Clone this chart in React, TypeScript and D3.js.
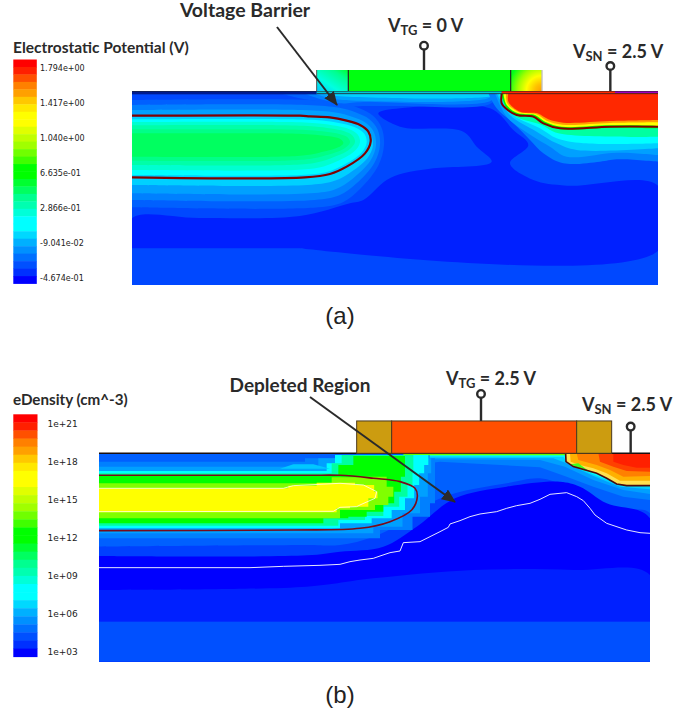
import React from "react";
import * as d3 from "d3";

type P = [number, number];

// ---------- Legends ----------
const legendColors = ["#ff0000","#ff2000","#ff5000","#ff8000","#ffa000","#ffc800","#ffe800","#ffff00","#ffff00","#e0ff00","#c0ff00","#a0ff00","#70ff00","#40ff00","#00ff00","#00ff00","#00ff30","#00ff60","#00ff90","#00ffb0","#00ffd8","#00ffff","#00ffff","#00d8ff","#00b0ff","#0090ff","#0070ff","#0050ff","#0030ff","#0000ff"];
const potentialTicks = ["1.794e+00","1.417e+00","1.040e+00","6.635e-01","2.866e-01","-9.041e-02","-4.674e-01"];
const densityTicks = ["1e+21","1e+18","1e+15","1e+12","1e+09","1e+06","1e+03"];

// ---------- Panel (a) contours, in mesh units ----------
const aDark: P[] = [[-504,745],[-504,655],[-300,654],[0,648],[150,610],[190,600],[260,540],[310,520],[400,505],[575,485],[530,440],[490,395],[300,380],[235,340],[300,325],[570,325],[640,390],[685,435],[630,490],[700,540],[800,557],[1074,557],[1074,752],[0,745]];
// well bands: colour, top, bottom, tip
const aWellColors = ["#0060ff","#0080ff","#00a0ff","#00d0ff","#00ffff","#00ffd0","#00ffa8","#00ff88","#00ff60"];
const aWellTops = [300,315,330,350,358,366,376,388,400];
const aWellBottoms = [622,600,580,555,525,510,495,482,470];
const aWellTips = [252,240,228,219,200,180,165,150,130];
const wellOutline: P[] = [[-222,0],[-122,0.03],[-72,0.08],[-32,0.15],[-7,0.26],[0,0.42],[-17,0.61],[-72,0.83],[-122,0.95],[-197,1]];
const aSurface: { color: string; pts: P[] }[] = [
  { color: "#0060ff", pts: [[-60,280],[0,295],[60,305],[120,320],[190,318],[300,318],[570,312],[600,280]] },
  { color: "#0080ff", pts: [[10,280],[60,297],[120,310],[190,306],[570,304],[592,280]] },
  { color: "#00a0ff", pts: [[40,280],[80,292],[130,300],[560,296],[588,280]] },
  { color: "#00d0ff", pts: [[60,280],[110,288],[575,289],[592,280]] },
];
const aSn: { color: string; pts: P[] }[] = [
  { color: "#0080ff", pts: [[565,280],[590,325],[640,370],[690,420],[730,460],[790,490],[900,485],[950,478],[1074,485]] },
  { color: "#00a0ff", pts: [[585,280],[620,350],[700,410],[750,440],[800,470],[950,458],[1074,465]] },
  { color: "#00d0ff", pts: [[590,280],[630,345],[710,395],[770,430],[830,450],[1074,445]] },
  { color: "#00ffff", pts: [[595,280],[640,345],[720,385],[770,415],[850,430],[1074,430]] },
  { color: "#00ffa0", pts: [[600,280],[640,345],[725,375],[775,400],[1074,410]] },
  { color: "#00ff00", pts: [[603,280],[620,325],[650,345],[700,352],[735,372],[780,388],[930,383],[1074,385]] },
  { color: "#ffff00", pts: [[610,280],[620,315],[655,340],[705,345],[735,365],[785,380],[930,376],[1074,378]] },
  { color: "#ffa000", pts: [[618,280],[622,310],[658,337],[709,343],[740,362],[788,374],[930,369],[1074,367]] },
  { color: "#ff2800", pts: [[625,280],[625,305],[660,335],[712,340],[745,358],[790,368],[930,363],[1074,360]] },
];
const aWellContour: P[] = [[-504,347],[0,347],[30,349],[90,352],[140,362],[180,375],[205,395],[212,425],[195,460],[140,500],[90,522],[15,532],[-504,532]];
const aSnContour: P[] = [[605,281],[605,310],[617,325],[650,345],[700,350],[730,370],[780,385],[930,380],[1074,380]];

// ---------- Panel (b) contours, in mesh units ----------
const bLevels: { color: string; pts: P[] }[] = [
  { color: "#0040ff", pts: [[-723,530],[-100,525],[0,525],[100,500],[200,450],[270,400],[345,370],[500,340],[600,325],[680,350],[780,400],[850,420],[930,430],[930,875],[-723,875]] },
  { color: "#0000ff", pts: [[-723,558],[-100,556],[0,545],[130,530],[230,470],[345,385],[500,350],[660,335],[720,350],[800,400],[930,445],[930,875],[-723,875]] },
  { color: "#0020ff", pts: [[-723,660],[-100,650],[100,625],[400,600],[700,600],[930,615],[930,875],[-723,875]] },
];
const bSurface: { color: string; pts: P[] }[] = [
  { color: "#0080ff", pts: [[265,280],[300,275],[600,292],[680,320],[760,350],[850,380],[930,390]] },
  { color: "#00a0ff", pts: [[265,268],[600,270],[675,290],[760,330],[850,360],[930,372]] },
  { color: "#00d0ff", pts: [[270,263],[640,265],[680,280],[760,318],[840,350],[930,358]] },
  { color: "#00ffff", pts: [[270,259],[670,260],[680,275],[720,297],[840,345],[930,350]] },
  { color: "#60ff00", pts: [[190,256],[670,256]] },
];
const bWell: { color: string; pts: P[] }[] = [
  { color: "#0080ff", pts: [[-723,275],[-150,275],[-60,265],[285,265],[285,400],[255,440],[180,480],[60,505],[-100,505],[-723,505]] },
  { color: "#00a0ff", pts: [[-723,290],[-100,290],[-30,265],[275,265],[272,310],[255,380],[225,430],[150,470],[50,490],[-100,490],[-723,490]] },
  { color: "#00ffff", pts: [[-723,303],[-50,303],[-30,280],[0,255],[265,255],[265,285],[240,310],[235,345],[210,385],[180,420],[130,445],[60,460],[-60,475],[-723,475]] },
  { color: "#00ffa0", pts: [[-723,310],[-40,310],[-10,280],[20,255],[215,255],[225,300],[210,345],[195,380],[160,410],[100,438],[50,450],[-60,467],[-723,467]] },
  { color: "#00ff00", pts: [[-723,318],[-30,318],[20,285],[60,258],[190,258],[200,290],[190,320],[175,365],[150,400],[110,425],[50,440],[0,445],[-100,460],[-723,460]] },
  { color: "#80ff00", pts: [[-723,340],[-50,340],[0,322],[120,320],[160,350],[160,380],[130,405],[80,420],[-80,445],[-723,445]] },
  { color: "#ffff00", pts: [[-723,355],[-170,355],[-140,347],[0,338],[90,345],[115,365],[110,385],[60,410],[0,415],[-20,427],[-723,427]] },
];
const bPatch: P[] = [[-140,283],[-80,283],[-30,296],[-180,296]];
const bSn: { color: string; pts: P[] }[] = [
  { color: "#ffe050", pts: [[675,250],[678,275],[700,290],[770,310],[800,325],[830,342],[860,347],[930,347]] },
  { color: "#ffb000", pts: [[690,250],[692,275],[720,285],[760,295],[800,310],[840,332],[930,332]] },
  { color: "#ff8000", pts: [[710,250],[715,270],[770,285],[810,300],[850,320],[930,318]] },
  { color: "#ff4000", pts: [[775,250],[780,275],[820,290],[860,303],[930,305]] },
  { color: "#ff2000", pts: [[820,250],[820,275],[850,285],[890,293],[930,293]] },
];
const bSnGreen: P[] = [[690,283],[715,280],[745,302],[728,300]];
const bWellContour: P[] = [[-723,316],[-100,316],[0,316],[100,325],[180,335],[225,355],[232,380],[215,420],[150,455],[60,475],[-140,480],[-723,482]];
const bInner: P[] = [[-723,355],[-170,355],[-140,347],[0,340],[70,345],[110,365],[105,385],[60,405],[50,410],[0,412],[-20,424],[-723,425]];
const bSnContour: P[] = [[677,252],[678,275],[700,290],[770,310],[800,325],[830,342],[860,347],[930,347]];
const bDepletion: P[] = [[-723,593],[-270,593],[-170,589],[-60,586],[0,583],[30,575],[60,570],[100,565],[120,558],[150,548],[180,543],[190,518],[240,515],[270,500],[300,485],[325,472],[330,462],[360,452],[390,440],[420,432],[470,425],[500,415],[530,407],[570,400],[600,388],[630,373],[680,368],[710,380],[730,392],[750,415],[765,435],[800,460],[860,480],[900,488],[930,490]];

const DARK = "#2a2a2a";
const LABEL_FONT = "Lato, 'Open Sans', sans-serif";

function Legend({ x, y, w, h, ticks, tickX, tickY, fontSize }: any) {
  const band = d3.scaleBand<number>().domain(d3.range(legendColors.length)).range([y, y + h]);
  return (
    <g>
      {legendColors.map((c, i) => (
        <rect key={i} x={x} y={band(i)} width={w} height={band.bandwidth() + 0.4} fill={c} />
      ))}
      {ticks.map((t: string, i: number) => (
        <text key={t} x={tickX} y={tickY(i)} dominantBaseline="central" fontFamily="'DejaVu Sans', sans-serif" fontSize={fontSize} fill="#222">{t}</text>
      ))}
    </g>
  );
}

function VLabel({ x, y, sub, rest, size = 18 }: any) {
  return (
    <text x={x} y={y} fontFamily={LABEL_FONT} fontWeight={700} fontSize={size} fill={DARK}>
      V<tspan dy={3} fontSize={size * 0.72}>{sub}</tspan><tspan dy={-3}> = {rest}</tspan>
    </text>
  );
}

function Stem({ x, y0, y1 }: any) {
  return (
    <g stroke={DARK} strokeWidth={2.4}>
      <line x1={x} x2={x} y1={y0} y2={y1} />
      <circle cx={x} cy={y0} r={3.8} fill="#fff" />
    </g>
  );
}

export default function App() {
  const xA = d3.scaleLinear().domain([-504, 1074]).range([132, 658]);
  const yA = d3.scaleLinear().domain([273, 855]).range([91, 285]);
  const xB = d3.scaleLinear().domain([-723, 930]).range([99, 650]);
  const yB = d3.scaleLinear().domain([250, 875]).range([453.3, 661.7]);

  const smoothA = d3.line<P>().x(d => xA(d[0])).y(d => yA(d[1])).curve(d3.curveCatmullRom.alpha(0.5));
  const linearA = d3.line<P>().x(d => xA(d[0])).y(d => yA(d[1]));
  const smoothB = d3.line<P>().x(d => xB(d[0])).y(d => yB(d[1])).curve(d3.curveCatmullRom.alpha(0.5));
  const linearB = d3.line<P>().x(d => xB(d[0])).y(d => yB(d[1]));
  const stepB = d3.line<P>().x(d => xB(d[0])).y(d => yB(d[1])).curve(d3.curveStep);

  const closeTopA = (pts: P[]) => `${smoothA(pts)}L${xA(1074)},${yA(273)}L${xA(pts[0][0])},${yA(273)}Z`;
  const closeTopB = (pts: P[]) => `${linearB(pts)}L${xB(930)},${yB(250)}L${xB(pts[0][0])},${yB(250)}Z`;

  const wellBand = (i: number) => {
    const t = aWellTops[i], b = aWellBottoms[i], tip = aWellTips[i];
    const pts: P[] = [[-504, t], ...wellOutline.map(([dx, f]) => [tip + dx, t + f * (b - t)] as P), [-504, b]];
    return smoothA(pts) + "Z";
  };

  return (
    <svg width={694} height={715} viewBox="0 0 694 715" style={{ position: "absolute", left: 0, top: 0, display: "block", background: "#fff" }}>
      <defs>
        <clipPath id="clipA"><rect x={132} y={91} width={526} height={194} /></clipPath>
        <clipPath id="clipB"><rect x={99} y={453} width={551} height={209} /></clipPath>
        <marker id="head" viewBox="0 0 14 12" refX={13} refY={6} markerWidth={14} markerHeight={12} markerUnits="userSpaceOnUse" orient="auto">
          <path d="M0,0L14,6L0,12Z" fill={DARK} />
        </marker>
        <linearGradient id="spL" x1="0" y1="1" x2="1" y2="0">
          <stop offset="0" stopColor="#00c8ff" /><stop offset="0.35" stopColor="#00ffe0" /><stop offset="0.75" stopColor="#00ff90" /><stop offset="1" stopColor="#00ff30" />
        </linearGradient>
        <radialGradient id="spR" gradientUnits="userSpaceOnUse" cx={xA(725)} cy={yA(273)} r={34}>
          <stop offset="0" stopColor="#ffa000" /><stop offset="0.2" stopColor="#ffc000" /><stop offset="0.45" stopColor="#ffff00" /><stop offset="0.7" stopColor="#a0ff00" /><stop offset="1" stopColor="#00ff18" />
        </radialGradient>
      </defs>

      {/* Panel (a) */}
      <g clipPath="url(#clipA)">
        <rect x={132} y={91} width={526} height={194} fill="#0048ff" />
        <path d={smoothA(aDark) + "Z"} fill="#0020ff" />
        {aWellColors.map((c, i) => <path key={c} d={wellBand(i)} fill={c} />)}
        {aSurface.map(s => <path key={s.color} d={`${smoothA(s.pts)}Z`} fill={s.color} />)}
        {aSn.map(s => <path key={s.color} d={closeTopA(s.pts)} fill={s.color} />)}
        <path d={smoothA(aWellContour)!} fill="none" stroke="#800000" strokeWidth={2.2} />
        <path d={smoothA(aSnContour)!} fill="none" stroke="#800000" strokeWidth={2} />
        {/* surface strip */}
        <rect x={xA(-504)} y={yA(273)} width={xA(50) - xA(-504)} height={yA(283) - yA(273)} fill="#001a90" />
        <rect x={xA(50)} y={yA(273)} width={xA(605) - xA(50)} height={yA(281) - yA(273)} fill="#00c8d8" />
        <rect x={xA(605)} y={yA(273)} width={xA(1074) - xA(605)} height={yA(281) - yA(273)} fill="#ff2800" />
        <rect x={xA(945)} y={yA(273)} width={xA(1074) - xA(945)} height={yA(279) - yA(273)} fill="#a000c0" />
        <line x1={xA(-504)} x2={xA(1074)} y1={yA(273)} y2={yA(273)} stroke="#222" strokeWidth={1} />
        <line x1={xA(50)} x2={xA(1074)} y1={yA(281)} y2={yA(281)} stroke="#222" strokeWidth={0.8} />
      </g>
      <rect x={xA(50)} y={yA(210)} width={xA(145) - xA(50)} height={yA(273) - yA(210)} fill="url(#spL)" />
      <rect x={xA(145)} y={yA(210)} width={xA(632) - xA(145)} height={yA(273) - yA(210)} fill="#00ff10" />
      <rect x={xA(632)} y={yA(210)} width={xA(725) - xA(632)} height={yA(273) - yA(210)} fill="url(#spR)" />
      <line x1={xA(50)} x2={xA(50)} y1={yA(210)} y2={yA(273)} stroke="#555" strokeWidth={1} />
      <line x1={xA(145)} x2={xA(145)} y1={yA(210)} y2={yA(273)} stroke="#222" strokeWidth={1.2} />
      <line x1={xA(632)} x2={xA(632)} y1={yA(210)} y2={yA(273)} stroke="#222" strokeWidth={1.2} />
      <line x1={xA(726)} x2={xA(726)} y1={yA(210)} y2={yA(273)} stroke="#aaa" strokeWidth={1} />
      <Stem x={xA(372)} y0={yA(137)} y1={yA(210)} />
      <Stem x={xA(931)} y0={yA(198)} y1={yA(273)} />

      {/* Panel (b) */}
      <g clipPath="url(#clipB)">
        <rect x={99} y={453} width={551} height={209} fill="#0060ff" />
        {bLevels.map(s => <path key={s.color} d={`${smoothB(s.pts)}Z`} fill={s.color} />)}
        <rect x={99} y={yB(755)} width={551} height={yB(875) - yB(755)} fill="#0050ff" />
        {bSurface.map(s => <path key={s.color} d={closeTopB(s.pts)} fill={s.color} />)}
        {bWell.map((s, i) => <path key={i} d={`${stepB(s.pts)}Z`} fill={s.color} />)}
        <path d={`${linearB(bPatch)}Z`} fill="#00c8ff" />
        {bSn.map(s => <path key={s.color} d={closeTopB(s.pts)} fill={s.color} />)}
        <path d={`${linearB(bSnGreen)}Z`} fill="#40ff20" />
        <path d={smoothB(bWellContour)!} fill="none" stroke="#7a0a1a" strokeWidth={1.6} />
        <path d={linearB(bSnContour)!} fill="none" stroke="#4a0a10" strokeWidth={1.6} />
        <path d={linearB(bInner)!} fill="none" stroke="#fff" strokeWidth={0.9} opacity={0.85} />
        <path d={linearB(bDepletion)!} fill="none" stroke="#fff" strokeWidth={1} opacity={0.9} />
      </g>
      <line x1={99} x2={650} y1={yB(250)} y2={yB(250)} stroke="#1a1010" strokeWidth={1.6} />
      <rect x={xB(50)} y={yB(153)} width={xB(155) - xB(50)} height={yB(250) - yB(153)} fill="#cc9c10" stroke="#4a3a20" strokeWidth={1} />
      <rect x={xB(155)} y={yB(153)} width={xB(710) - xB(155)} height={yB(250) - yB(153)} fill="#ff5000" stroke="#4a3a20" strokeWidth={1} />
      <rect x={xB(710)} y={yB(153)} width={xB(815) - xB(710)} height={yB(250) - yB(153)} fill="#cc9c10" stroke="#4a3a20" strokeWidth={1} />
      <Stem x={xB(423)} y0={yB(72)} y1={yB(153)} />
      <Stem x={xB(872)} y0={yB(170)} y1={yB(250)} />

      {/* Legends */}
      <Legend x={13.3} y={59.5} w={23.5} h={224} ticks={potentialTicks} tickX={40} fontSize={8}
        tickY={(i: number) => 68 + i * 35} />
      <Legend x={13.3} y={414.3} w={24.2} h={242.4} ticks={densityTicks} tickX={47.5} fontSize={9}
        tickY={(i: number) => 424.3 + i * 38} />
      <text x={13} y={53} fontFamily={LABEL_FONT} fontWeight={700} fontSize={15.5} fill={DARK}>Electrostatic Potential (V)</text>
      <text x={13} y={405} fontFamily={LABEL_FONT} fontWeight={700} fontSize={15.2} fill={DARK}>eDensity (cm^-3)</text>

      {/* Annotations */}
      <line x1={277} y1={27} x2={337} y2={105} stroke={DARK} strokeWidth={2} markerEnd="url(#head)" />
      <line x1={310} y1={397} x2={455} y2={502} stroke={DARK} strokeWidth={2} markerEnd="url(#head)" />
      <text x={245} y={17} textAnchor="middle" fontFamily={LABEL_FONT} fontWeight={700} fontSize={19.5} fill={DARK}>Voltage Barrier</text>
      <text x={300} y={392} textAnchor="middle" fontFamily={LABEL_FONT} fontWeight={700} fontSize={19} fill={DARK}>Depleted Region</text>
      <VLabel x={388} y={32} sub="TG" rest="0 V" />
      <VLabel x={573} y={58} sub="SN" rest="2.5 V" />
      <VLabel x={446} y={385} sub="TG" rest="2.5 V" />
      <VLabel x={582} y={411} sub="SN" rest="2.5 V" />
      <text x={340} y={324} textAnchor="middle" fontFamily="'Liberation Sans', sans-serif" fontSize={24} fill="#222">(a)</text>
      <text x={340} y={703} textAnchor="middle" fontFamily="'Liberation Sans', sans-serif" fontSize={24} fill="#222">(b)</text>
    </svg>
  );
}
